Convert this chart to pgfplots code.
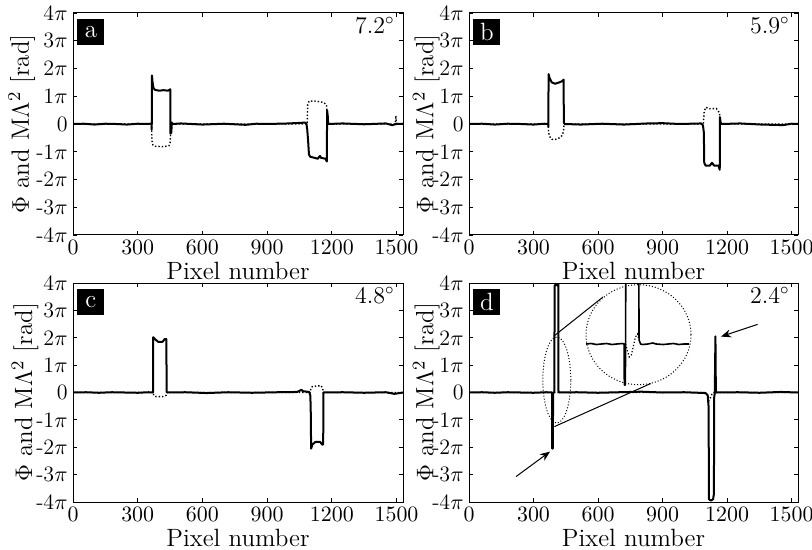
\documentclass[border=0pt]{standalone}
\usepackage{pgfplots}
\pgfplotsset{compat=1.18}
\usetikzlibrary{arrows.meta}
\tikzset{
  sol/.style={black, line width=1pt, line join=round},
  dot/.style={black, densely dotted, line width=0.7pt},
  plab/.style={fill=black, text=white, font=\fontsize{12.5}{14}\selectfont, minimum width=13.5pt, minimum height=13pt, inner sep=0pt, anchor=north west},
  angl/.style={font=\fontsize{12}{14}\selectfont, anchor=north east, inner sep=0pt},
}
\pgfplotsset{
  myax/.style={
    scale only axis, width=165pt,
    xmin=0, xmax=1530, ymin=-4, ymax=4,
    xtick={0,300,600,900,1200,1500},
    ytick={-4,-3,-2,-1,0,1,2,3,4},
    yticklabels={-4$\pi$,-3$\pi$,-2$\pi$,-1$\pi$,0,1$\pi$,2$\pi$,3$\pi$,4$\pi$},
    /pgf/number format/1000 sep={},
    tick label style={font=\fontsize{11}{12}\selectfont},
    label style={font=\fontsize{12.5}{14}\selectfont},
    xlabel={Pixel number},
    ylabel={$\Phi$ and M$\Lambda^2$ [rad]},
    xlabel style={at={(axis description cs:0.5,-0.162)}, anchor=center},
    major tick length=2pt,
    xticklabel style={yshift=0.8pt},
    yticklabel style={xshift=0.8pt},
    axis line style={line width=0.5pt},
    every tick/.style={black, line width=0.4pt},
  },
}
\begin{document}
\begin{tikzpicture}
\path[use as bounding box] (0,0) rectangle (406pt,-275pt);
% ---------------- a ----------------
\begin{axis}[myax, height=111pt, at={(36.5pt,-117.5pt)}, anchor=south west,
  ylabel style={at={(axis description cs:-0.155,0.5)}, anchor=center}]
\addplot[dot] coordinates {(0,0) (364,0) (366,-0.6) (370,-0.75) (380,-0.8) (420,-0.82) (445,-0.78) (450,-0.7) (453,-0.3) (455,0) (1086,0) (1088,0.7) (1095,0.83) (1130,0.82) (1160,0.78) (1175,0.7) (1178,0.3) (1180,0) (1494,0) (1497,0.3) (1500,0) (1530,0)};
\addplot[sol] coordinates {(0,0) (50,0.01) (100,-0.02) (150,0.01) (200,0) (250,-0.02) (300,0.01) (350,0) (364,0.02) (365,-0.2) (366,1.75) (369,1.5) (373,1.3) (380,1.23) (400,1.2) (420,1.22) (440,1.2) (451,1.25) (452,-0.35) (456,-0.3) (458,0.05) (462,0) (500,0.02) (600,-0.02) (700,0.01) (800,-0.03) (850,0.01) (900,0) (1000,0.02) (1075,0.05) (1082,0.02) (1086,-0.2) (1090,-0.6) (1094,-1.1) (1100,-1.18) (1120,-1.22) (1135,-1.25) (1145,-1.15) (1150,-1.22) (1170,-1.25) (1177,-1.35) (1178,0.5) (1181,0.3) (1183,0) (1250,0.02) (1350,-0.01) (1450,0.02) (1480,-0.04) (1500,0) (1530,0.01)};
\node[plab] at (rel axis cs:0,1) [xshift=2pt,yshift=-3pt] {a};
\node[angl] at (rel axis cs:1,1) [xshift=-4pt,yshift=-2pt] {7.2$^{\circ}$};
\end{axis}
% ---------------- b ----------------
\begin{axis}[myax, width=164.5pt, height=111pt, at={(234.5pt,-117.5pt)}, anchor=south west,
  ylabel style={at={(axis description cs:-0.13,0.5)}, anchor=center}]
\addplot[dot] coordinates {(0,0) (368,0) (370,-0.3) (375,-0.45) (385,-0.55) (400,-0.56) (420,-0.5) (435,-0.4) (440,-0.2) (442,0) (1090,0) (1093,0.4) (1100,0.6) (1120,0.55) (1150,0.56) (1165,0.4) (1168,0) (1530,0)};
\addplot[sol] coordinates {(0,0) (60,0.01) (120,-0.02) (180,0.01) (240,0) (300,-0.02) (350,0.01) (368,0) (369,-0.1) (370,1.8) (375,1.65) (385,1.5) (400,1.45) (420,1.5) (435,1.55) (440,1.6) (441,0.05) (445,0) (520,-0.02) (620,0.01) (720,-0.02) (830,0.02) (900,0.03) (980,0) (1080,0.02) (1088,-0.05) (1092,-0.3) (1094,-1.4) (1100,-1.5) (1120,-1.5) (1130,-1.4) (1140,-1.5) (1160,-1.5) (1166,-1.65) (1167,0.25) (1170,0.05) (1175,0) (1260,0.02) (1360,-0.02) (1460,-0.04) (1500,0.01) (1530,0)};
\node[plab] at (rel axis cs:0,1) [xshift=2pt,yshift=-3pt] {b};
\node[angl] at (rel axis cs:1,1) [xshift=-4pt,yshift=-2pt] {5.9$^{\circ}$};
\end{axis}
% ---------------- c ----------------
\begin{axis}[myax, height=109.5pt, at={(36.5pt,-251pt)}, anchor=south west,
  ylabel style={at={(axis description cs:-0.145,0.5)}, anchor=center}]
\addplot[dot] coordinates {(0,0) (372,0) (374,-0.1) (385,-0.15) (420,-0.15) (432,-0.1) (434,0) (1100,0) (1103,0.15) (1110,0.22) (1150,0.25) (1158,0.15) (1160,0) (1530,0)};
\addplot[sol] coordinates {(0,0) (60,0.01) (120,-0.01) (180,0.01) (240,0) (300,-0.01) (350,0.01) (371,0) (372,2.02) (380,1.95) (395,1.85) (415,1.85) (425,1.95) (433,1.95) (434,0.03) (438,0) (520,0.01) (620,-0.02) (720,0.01) (830,-0.01) (950,0.01) (1040,0.02) (1060,0.1) (1065,0.05) (1095,0.02) (1100,-0.1) (1102,-0.5) (1104,-2.05) (1110,-1.9) (1125,-1.8) (1145,-1.8) (1155,-1.9) (1160,-1.9) (1161,0) (1250,0.01) (1350,-0.01) (1450,0.01) (1490,-0.05) (1530,0)};
\node[plab] at (rel axis cs:0,1) [xshift=2pt,yshift=-3pt] {c};
\node[angl] at (rel axis cs:1,1) [xshift=-4pt,yshift=-2pt] {4.8$^{\circ}$};
\end{axis}
% ---------------- d ----------------
\begin{axis}[myax, width=164.5pt, height=109.5pt, at={(234.5pt,-251pt)}, anchor=south west,
  ylabel style={at={(axis description cs:-0.13,0.5)}, anchor=center}]
\addplot[dot] coordinates {(0,0) (1100,0) (1108,-0.1) (1115,-0.3) (1122,-0.2) (1130,-0.05) (1135,0) (1530,0)};
\addplot[sol] coordinates {(0,0) (60,0.01) (120,-0.01) (180,0.01) (240,0) (300,-0.01) (360,0.01) (386,0) (387,-2.05) (390,-2.05) (391,0) (397,0) (398,3.9) (405,3.95) (412,3.9) (415,4.3) (416,0.05) (420,0) (500,0.01) (600,-0.01) (700,0.01) (800,0.03) (900,0) (1000,0.01) (1100,-0.02) (1110,-0.1) (1114,-0.5) (1116,-3.9) (1125,-3.95) (1135,-3.9) (1139,-3.7) (1140,-0.2) (1143,0) (1146,2.05) (1148,0) (1250,0.01) (1350,-0.01) (1450,0.02) (1530,0)};
\node[plab] at (rel axis cs:0,1) [xshift=2pt,yshift=-3pt] {d};
\node[angl] at (rel axis cs:1,1) [xshift=-4pt,yshift=-2pt] {2.4$^{\circ}$};
\end{axis}
% annotations for d
\draw[densely dotted, line width=0.5pt] (278.4pt,-190pt) ellipse [x radius=7pt, y radius=21.5pt];
\draw[line width=0.5pt] (277pt,-168pt) -- (301.5pt,-148.5pt);
\draw[line width=0.5pt] (277.2pt,-213.3pt) -- (325.5pt,-191.7pt);
\draw[densely dotted, line width=0.5pt, fill=white] (319.25pt,-167.35pt) ellipse [x radius=26.25pt, y radius=25pt];
\draw[line width=0.5pt, -{Stealth[length=5pt,width=4pt]}] (258pt,-238.3pt) -- (275pt,-225.8pt);
\draw[line width=0.5pt, -{Stealth[length=5pt,width=4pt]}] (378.8pt,-162.2pt) -- (360.5pt,-168.3pt);
% inset
\begin{axis}[scale only axis, width=51.5pt, height=50pt, at={(293pt,-192.5pt)}, anchor=south west,
  xmin=0, xmax=100, ymin=-50, ymax=50, hide axis]
\addplot[dot, line width=0.6pt] coordinates {(38.4,-9) (40,-15) (42,-22) (44,-20) (46,-11) (48,-2) (50,1) (51.5,-5)};
\addplot[sol, line width=0.8pt] coordinates {(0,-9) (5,-8.5) (10,-9.5) (15,-9) (20,-8.5) (25,-9.5) (30,-9) (35,-8.5) (37,-9) (37.2,-50) (38.2,-50) (38.4,-9) (38.6,55) (51.3,55) (51.5,-5) (53,-9) (55,-9.5) (60,-9) (65,-8) (68,-9) (75,-9.5) (80,-9) (85,-8.5) (90,-9.5) (95,-9) (100,-9)};
\end{axis}
\end{tikzpicture}
\end{document}
